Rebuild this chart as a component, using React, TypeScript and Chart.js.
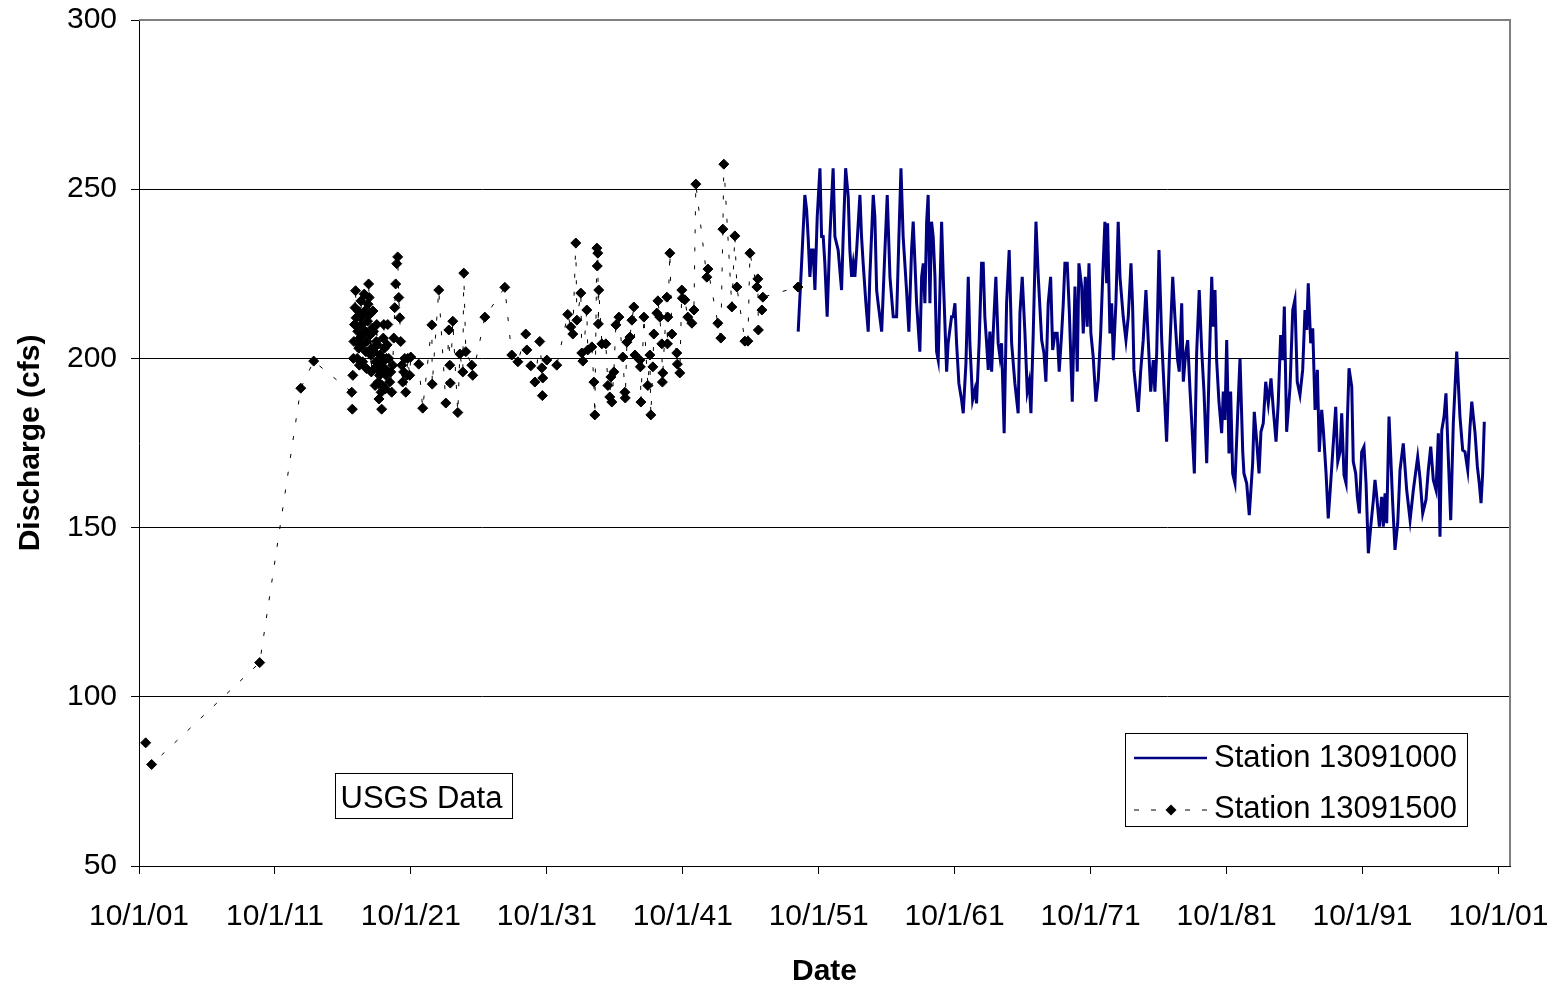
import React, { useEffect, useRef } from "react";
import { Chart, registerables } from "chart.js";

Chart.register(...registerables);

// ---------- data ----------
const xTickYears = [1901.75, 1911.75, 1921.75, 1931.75, 1941.75, 1951.75, 1961.75, 1971.75, 1981.75, 1991.75, 2001.75];
const yTickValues = [50, 100, 150, 200, 250, 300];
const seriesNames = ["Station 13091000", "Station 13091500"];
const noteText = "USGS Data";
const xAxisTitle = "Date";
const yAxisTitle = "Discharge (cfs)";

// Station 13091500 (decimal years, cfs)
const st13091500Years = [
  1902.24, 1902.68, 1910.63, 1913.65, 1914.6,
  1917.4, 1917.44, 1917.48, 1917.52, 1917.56, 1917.6, 1917.64, 1917.68, 1917.72, 1917.76,
  1917.8, 1917.84, 1917.88, 1917.92, 1917.96, 1918.0, 1918.04, 1918.08, 1918.12, 1918.16,
  1918.2, 1918.24, 1918.28, 1918.32, 1918.36, 1918.4, 1918.44, 1918.48, 1918.52, 1918.56,
  1918.6, 1918.64, 1918.68, 1918.72, 1918.76, 1918.8, 1918.84, 1918.88, 1918.92, 1918.96,
  1919.0, 1919.04, 1919.08, 1919.12, 1919.16, 1919.2, 1919.24, 1919.28, 1919.32, 1919.36,
  1919.4, 1919.44, 1919.48, 1919.52, 1919.56, 1919.6, 1919.64, 1919.68, 1919.72, 1919.76,
  1919.8, 1919.84, 1919.88, 1919.92, 1919.96, 1920.0,
  1920.05, 1920.12, 1920.19, 1920.27, 1920.34, 1920.41, 1920.49, 1920.56, 1920.63, 1920.71,
  1920.78, 1920.86, 1920.93, 1921.0, 1921.08, 1921.15, 1921.22, 1921.3, 1921.37, 1921.44,
  1921.52, 1921.66,
  1921.74, 1922.33, 1922.62, 1923.29, 1923.32, 1923.8, 1924.32, 1924.54, 1924.61, 1924.65,
  1924.83, 1925.2, 1925.35, 1925.57, 1925.64, 1925.79, 1926.23, 1926.3, 1927.19, 1928.66,
  1929.17, 1929.62, 1930.2, 1930.28, 1930.57, 1930.87, 1931.23, 1931.38, 1931.42, 1931.45,
  1931.75, 1932.48, 1933.29, 1933.51, 1933.66, 1933.88, 1933.96, 1934.25, 1934.32, 1934.4,
  1934.69, 1934.76, 1935.06, 1935.21, 1935.28, 1935.43, 1935.46, 1935.5, 1935.54, 1935.57,
  1935.8, 1936.09, 1936.24, 1936.38, 1936.46, 1936.53, 1936.68, 1936.83, 1937.05, 1937.34,
  1937.49, 1937.52, 1937.64, 1937.86, 1938.01, 1938.15, 1938.23, 1938.59, 1938.63, 1938.67,
  1938.89, 1939.18, 1939.33, 1939.4, 1939.55, 1939.62, 1939.84, 1939.92, 1940.06, 1940.21,
  1940.25, 1940.28, 1940.58, 1940.62, 1940.65, 1940.8, 1940.95, 1941.31, 1941.35, 1941.53,
  1941.68, 1941.72, 1941.9, 1942.12, 1942.42, 1942.57, 1942.71, 1943.52, 1943.6, 1944.33,
  1944.55, 1944.7, 1944.77, 1945.36, 1945.58, 1945.73, 1946.32, 1946.54, 1946.69, 1947.2,
  1947.27, 1947.31, 1947.57, 1947.64, 1950.22,
];
const st13091500Values = [
  86.4, 80.0, 110.1, 191.2, 199.2,
  190, 185, 195, 200, 205, 210, 215, 220, 212, 205,
  200, 208, 214, 203, 198, 206, 212, 217, 210, 204,
  199, 207, 213, 219, 214, 208, 202, 197, 205, 211,
  216, 222, 218, 213, 207, 201, 196, 203, 209, 214,
  208, 202, 197, 192, 199, 205, 210, 204, 198, 193,
  188, 195, 201, 196, 190, 185, 192, 199, 206, 210,
  203, 197, 191, 195, 200, 204,
  210, 200, 193, 196, 190, 198, 206, 215, 222, 228,
  230, 218, 212, 205, 198, 193, 196, 200, 190, 195,
  200, 195,
  200.4, 198.3, 185.3, 209.9, 192.4, 220.2, 186.8, 208.4, 198, 192.7,
  211, 184, 201.3, 196, 225.2, 202, 198, 195, 212.2, 221,
  201, 199, 207.2, 202.5, 197.8, 193, 205, 197.2, 189, 194.2,
  199.5, 198, 213, 209.3, 207.2, 234.1, 211.3, 219.3, 201.6, 199.2,
  214.3, 202.5, 203.4, 193, 183.3, 232.6, 227.3, 231.1, 210.2, 220.2,
  204.3, 204.3, 192, 188.6, 194.5, 187.1, 196, 209.9, 212.2, 200.4,
  190, 188.3, 204.8, 206.3, 211.3, 215.2, 201, 199.5, 197.5, 187.1,
  212.2, 192, 201, 183.3, 197.5, 207.2, 213.4, 217, 212.2, 204.3,
  193, 195.7, 218.1, 204.3, 212.2, 231.1, 207.2, 201.6, 198.3, 195.7,
  220.2, 217.8, 217.3, 212.2, 210.4, 214.3, 251.5, 224, 226.4, 210.4,
  206, 238.2, 257.4, 215.2, 236.2, 221.1, 205.1, 205.1, 231.1, 221.1,
  223.5, 208.4, 214.3, 218.1, 221.1,
];

// Station 13091000 (decimal years, cfs)
const st13091000Years = [
  1950.24, 1950.49, 1950.73, 1950.86, 1950.97, 1951.1, 1951.23, 1951.34, 1951.47, 1951.64,
  1951.84, 1951.96, 1952.08, 1952.2, 1952.37, 1952.57, 1952.81, 1952.94, 1953.18, 1953.43,
  1953.55, 1953.73, 1953.92, 1954.04, 1954.17, 1954.29, 1954.41, 1954.54, 1954.78, 1954.9,
  1955.02, 1955.22, 1955.39, 1955.51, 1955.76, 1955.88, 1956.01, 1956.12, 1956.38, 1956.62,
  1956.79, 1956.99, 1957.23, 1957.48, 1957.65, 1957.8, 1957.96, 1958.21, 1958.38, 1958.58,
  1958.7, 1958.83, 1958.95, 1959.19, 1959.32, 1959.44, 1959.56, 1959.69, 1959.8, 1959.93,
  1960.05, 1960.17, 1960.3, 1960.42, 1960.54, 1960.79, 1960.91, 1961.16, 1961.27, 1961.52,
  1961.64, 1961.77, 1961.89, 1962.06, 1962.26, 1962.38, 1962.58, 1962.75, 1962.87, 1963.07,
  1963.24, 1963.36, 1963.55, 1963.73, 1963.85, 1963.97, 1964.1, 1964.22, 1964.34, 1964.47,
  1964.59, 1964.78, 1964.95, 1965.08, 1965.2, 1965.39, 1965.57, 1965.76, 1965.94, 1966.18,
  1966.42, 1966.55, 1966.72, 1966.92, 1967.09, 1967.23, 1967.36, 1967.53, 1967.73, 1967.9,
  1968.15, 1968.32, 1968.46, 1968.63, 1968.81, 1968.96, 1969.13, 1969.29, 1969.44, 1969.62,
  1969.74, 1969.86, 1970.03, 1970.18, 1970.4, 1970.6, 1970.77, 1970.89, 1971.09, 1971.21,
  1971.36, 1971.5, 1971.63, 1971.77, 1971.94, 1972.14, 1972.31, 1972.49, 1972.64, 1972.8,
  1972.93, 1973.0, 1973.17, 1973.3, 1973.42, 1973.61, 1973.78, 1973.91, 1974.15, 1974.35,
  1974.52, 1974.72, 1974.84, 1974.94, 1975.25, 1975.43, 1975.62, 1975.82, 1975.99, 1976.17,
  1976.36, 1976.48, 1976.61, 1976.78, 1976.98, 1977.15, 1977.34, 1977.54, 1977.79, 1977.95,
  1978.15, 1978.27, 1978.45, 1978.57, 1978.74, 1978.89, 1979.06, 1979.18, 1979.38, 1979.55,
  1979.74, 1979.92, 1980.09, 1980.29, 1980.46, 1980.66, 1980.77, 1980.9, 1981.02, 1981.19,
  1981.39, 1981.51, 1981.63, 1981.76, 1981.93, 1982.05, 1982.2, 1982.37, 1982.57, 1982.74,
  1982.94, 1983.03, 1983.23, 1983.42, 1983.67, 1983.79, 1983.97, 1984.14, 1984.28, 1984.45,
  1984.63, 1984.82, 1985.02, 1985.19, 1985.39, 1985.55, 1985.73, 1985.88, 1986.0, 1986.17,
  1986.42, 1986.62, 1986.78, 1986.95, 1987.15, 1987.35, 1987.52, 1987.65, 1987.76, 1987.94,
  1988.09, 1988.26, 1988.43, 1988.57, 1988.75, 1988.87, 1989.07, 1989.23, 1989.41, 1989.56,
  1989.78, 1989.93, 1990.1, 1990.22, 1990.39, 1990.54, 1990.63, 1990.76, 1990.96, 1991.07,
  1991.25, 1991.37, 1991.52, 1991.69, 1991.86, 1992.01, 1992.18, 1992.38, 1992.55, 1992.67,
  1992.8, 1992.99, 1993.16, 1993.28, 1993.41, 1993.53, 1993.7, 1993.83, 1993.97, 1994.14,
  1994.34, 1994.51, 1994.75, 1995.0, 1995.25, 1995.49, 1995.81, 1995.98, 1996.18, 1996.42,
  1996.59, 1996.77, 1996.96, 1997.16, 1997.33, 1997.45, 1997.58, 1997.75, 1997.89, 1998.06,
  1998.24, 1998.43, 1998.68, 1998.8, 1998.92, 1999.12, 1999.29, 1999.49, 1999.66, 1999.79,
  2000.03, 2000.2, 2000.34, 2000.47, 2000.59, 2000.71,
];
const st13091000Values = [
  207.9, 228.1, 248.3, 243.9, 236.0, 224.1, 232.0, 232.0, 220.2, 241.9,
  256.2, 236.0, 236.0, 228.1, 212.3, 236.0, 256.2, 236.0, 232.0, 220.2,
  236.0, 256.2, 247.8, 232.0, 224.1, 228.1, 224.1, 232.0, 248.3, 236.0,
  228.1, 216.3, 207.9, 224.1, 248.3, 241.9, 220.2, 216.3, 207.9, 232.0,
  248.3, 224.1, 212.3, 212.3, 236.0, 256.2, 236.0, 220.2, 207.9, 232.0,
  240.4, 228.1, 216.3, 202.0, 224.1, 228.1, 216.3, 240.4, 248.3, 216.3,
  240.4, 236.0, 224.1, 202.0, 199.5, 240.4, 224.1, 196.1, 204.5, 212.3,
  212.3, 216.3, 204.5, 192.6, 187.7, 183.8, 198.6, 224.1, 204.5, 187.7,
  190.7, 186.7, 204.5, 228.1, 228.1, 212.3, 204.5, 196.6, 207.9, 196.1,
  207.9, 224.1, 204.5, 200.5, 204.5, 177.9, 216.3, 232.0, 204.5, 192.6,
  183.8, 213.3, 224.1, 207.4, 190.2, 193.1, 183.8, 207.4, 240.4, 224.1,
  205.4, 201.5, 193.1, 216.3, 224.1, 202.5, 207.4, 207.4, 196.1, 207.4,
  216.3, 228.1, 228.1, 214.3, 187.2, 221.2, 196.1, 228.1, 221.2, 207.4,
  224.1, 209.4, 228.1, 207.4, 200.5, 187.2, 193.6, 207.4, 224.1, 240.4,
  222.2, 239.9, 207.4, 216.3, 199.5, 216.3, 240.4, 224.1, 212.3, 205.4,
  212.3, 228.1, 215.3, 196.6, 184.2, 196.1, 205.4, 220.2, 205.4, 190.2,
  199.5, 190.2, 201.5, 232.0, 205.4, 191.6, 175.4, 199.5, 224.1, 212.3,
  199.5, 196.1, 216.3, 193.1, 201.5, 205.4, 190.7, 181.8, 166.0, 201.5,
  220.2, 202.5, 190.2, 169.0, 195.6, 224.1, 209.4, 220.2, 199.5, 187.2,
  177.9, 190.2, 181.8, 205.4, 171.9, 190.2, 166.0, 163.1, 183.8, 200.0,
  172.4, 166.0, 163.1, 153.7, 169.0, 184.2, 175.4, 166.0, 178.3, 180.8,
  193.1, 186.7, 194.1, 184.8, 175.4, 186.7, 206.9, 199.5, 215.3, 178.3,
  191.6, 214.3, 217.3, 193.1, 189.2, 196.6, 214.3, 208.4, 222.2, 204.5,
  208.9, 184.8, 196.6, 172.4, 184.8, 178.8, 166.0, 152.7, 163.1, 172.4,
  185.7, 169.5, 172.4, 183.8, 165.5, 163.1, 180.8, 197.1, 191.6, 169.5,
  166.0, 159.1, 154.2, 172.4, 173.9, 163.1, 142.4, 151.3, 158.2, 164.1,
  159.1, 150.3, 159.1, 150.3, 160.1, 151.3, 182.8, 170.9, 157.2, 143.4,
  151.3, 167.0, 174.9, 161.1, 152.2, 161.1, 170.9, 164.6, 154.2, 158.2,
  167.0, 173.9, 164.1, 161.1, 177.9, 147.3, 178.8, 182.8, 189.7, 170.9,
  152.2, 180.8, 202.0, 192.6, 182.8, 172.9, 172.4, 167.0, 179.8, 187.2,
  177.9, 168.0, 163.1, 157.2, 166.0, 181.3,
];

// ---------- styling ----------
const FONT = '"Liberation Sans", Arial, Helvetica, sans-serif';
const NAVY = "#000080";
const BLACK = "#000000";
const GRAY = "#808080";

const framePlugin = {
  id: "frameAndNotes",
  afterDraw(chart: any) {
    const { ctx, chartArea } = chart;
    const { left, top, right, bottom } = chartArea;
    ctx.save();
    // gray top & right frame of the plot area
    ctx.strokeStyle = GRAY;
    ctx.lineWidth = 2;
    ctx.beginPath();
    ctx.moveTo(left, top);
    ctx.lineTo(right, top);
    ctx.lineTo(right, bottom);
    ctx.stroke();

    // "USGS Data" note box
    const nb = { x: 335.5, y: 773.5, w: 177, h: 45 };
    ctx.fillStyle = "#ffffff";
    ctx.fillRect(nb.x, nb.y, nb.w, nb.h);
    ctx.strokeStyle = BLACK;
    ctx.lineWidth = 1;
    ctx.strokeRect(nb.x, nb.y, nb.w, nb.h);
    ctx.fillStyle = BLACK;
    ctx.font = `31px ${FONT}`;
    ctx.textBaseline = "alphabetic";
    ctx.textAlign = "left";
    ctx.fillText(noteText, nb.x + 5, 808);

    // legend box
    const lb = { x: 1125.5, y: 733.5, w: 342, h: 93 };
    ctx.fillStyle = "#ffffff";
    ctx.fillRect(lb.x, lb.y, lb.w, lb.h);
    ctx.strokeStyle = BLACK;
    ctx.lineWidth = 1;
    ctx.strokeRect(lb.x, lb.y, lb.w, lb.h);

    // row 1: navy solid line
    ctx.strokeStyle = NAVY;
    ctx.lineWidth = 2.5;
    ctx.beginPath();
    ctx.moveTo(1134, 758);
    ctx.lineTo(1207, 758);
    ctx.stroke();

    // row 2: dashed black with diamond
    ctx.strokeStyle = BLACK;
    ctx.lineWidth = 1;
    ctx.setLineDash([5, 12]);
    ctx.beginPath();
    ctx.moveTo(1134, 810);
    ctx.lineTo(1207, 810);
    ctx.stroke();
    ctx.setLineDash([]);
    ctx.fillStyle = BLACK;
    ctx.beginPath();
    ctx.moveTo(1171, 804.5);
    ctx.lineTo(1176.5, 810);
    ctx.lineTo(1171, 815.5);
    ctx.lineTo(1165.5, 810);
    ctx.closePath();
    ctx.fill();

    ctx.fillStyle = BLACK;
    ctx.font = `31px ${FONT}`;
    ctx.fillText(seriesNames[0], 1214, 767);
    ctx.fillText(seriesNames[1], 1214, 818);
    ctx.restore();
  },
};

export default function App() {
  const canvasRef = useRef<HTMLCanvasElement | null>(null);

  useEffect(() => {
    const canvas = canvasRef.current;
    if (!canvas) return;
    Chart.defaults.font.family = FONT;
    Chart.defaults.color = BLACK;

    const blueData = st13091000Years.map((x, i) => ({ x, y: st13091000Values[i] }));
    const blackData = st13091500Years.map((x, i) => ({ x, y: st13091500Values[i] }));

    const chart = new Chart(canvas, {
      type: "line",
      data: {
        datasets: [
          {
            label: seriesNames[0],
            data: blueData,
            borderColor: NAVY,
            backgroundColor: NAVY,
            borderWidth: 3,
            pointRadius: 0,
            tension: 0,
            fill: false,
            order: 2,
          },
          {
            label: seriesNames[1],
            data: blackData,
            borderColor: BLACK,
            backgroundColor: BLACK,
            borderWidth: 1,
            borderDash: [4, 14],
            pointStyle: "rectRot",
            pointRadius: 5,
            pointBackgroundColor: BLACK,
            pointBorderColor: BLACK,
            pointBorderWidth: 1,
            tension: 0,
            fill: false,
            order: 1,
          },
        ],
      },
      options: {
        responsive: false,
        animation: false,
        events: [],
        layout: { padding: { left: 0, top: 20, right: 46, bottom: 0 } },
        plugins: {
          legend: { display: false },
          tooltip: { enabled: false },
        },
        scales: {
          x: {
            type: "linear",
            min: 1901.75,
            max: 2002.6,
            afterBuildTicks: (scale: any) => {
              scale.ticks = xTickYears.map((v) => ({ value: v }));
            },
            afterFit: (scale: any) => {
              scale.height = 121;
              scale.paddingLeft = 0;
              scale.paddingRight = 0;
              scale.paddingTop = 0;
              scale.paddingBottom = 0;
            },
            ticks: {
              autoSkip: false,
              maxRotation: 0,
              minRotation: 0,
              padding: 25,
              color: BLACK,
              font: { size: 30, family: FONT },
              callback: (value: any) => {
                const yr = Math.round(Number(value) - 0.75) % 100;
                return `10/1/${String(yr).padStart(2, "0")}`;
              },
            },
            grid: {
              drawOnChartArea: false,
              drawTicks: true,
              tickLength: 8,
              color: BLACK,
              tickColor: BLACK,
              lineWidth: 1,
            },
            border: { display: true, color: BLACK, width: 1 },
            title: {
              display: true,
              text: xAxisTitle,
              color: BLACK,
              font: { size: 30, weight: "bold", family: FONT },
              padding: { top: 0, bottom: -3 },
            },
          },
          y: {
            type: "linear",
            min: 50,
            max: 300,
            afterBuildTicks: (scale: any) => {
              scale.ticks = yTickValues.map((v) => ({ value: v }));
            },
            afterFit: (scale: any) => {
              scale.width = 139;
              scale.paddingLeft = 0;
              scale.paddingRight = 0;
              scale.paddingTop = 0;
              scale.paddingBottom = 0;
            },
            ticks: {
              padding: 14,
              color: BLACK,
              font: { size: 30, family: FONT },
            },
            grid: {
              drawTicks: true,
              tickLength: 8,
              color: (c: any) => (c.tick && c.tick.value === 300 ? "rgba(0,0,0,0)" : BLACK),
              tickColor: BLACK,
              lineWidth: 1,
            },
            border: { display: true, color: BLACK, width: 1 },
            title: {
              display: true,
              text: yAxisTitle,
              color: BLACK,
              font: { size: 30, weight: "bold", family: FONT },
              padding: { top: 13, bottom: 0 },
            },
          },
        },
      },
      plugins: [framePlugin],
    });

    return () => chart.destroy();
  }, []);

  return (
    <div style={{ position: "absolute", left: 0, top: 0, width: 1556, height: 987, background: "#ffffff" }}>
      <canvas ref={canvasRef} width={1556} height={987} style={{ display: "block", width: 1556, height: 987 }} />
    </div>
  );
}
